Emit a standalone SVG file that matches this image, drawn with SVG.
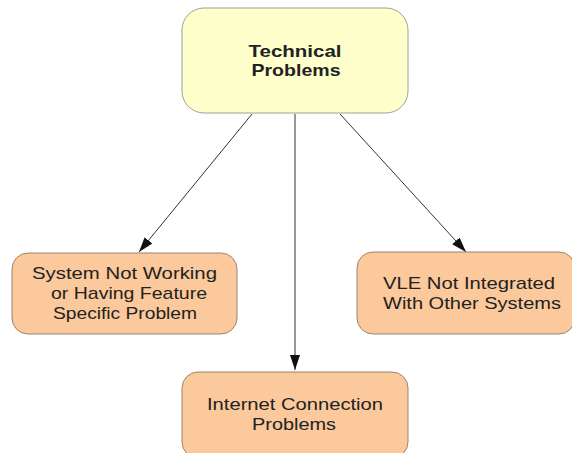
<svg xmlns="http://www.w3.org/2000/svg" width="572" height="453" viewBox="0 0 572 453">
  <style>
    .root { fill: #ffffcc; stroke: #a0a090; stroke-width: 1; }
    .leaf { fill: #fbc99b; stroke: #9a8470; stroke-width: 1; }
    .t { font-family: "Liberation Sans", Arial, sans-serif; font-size: 17px; fill: #222; text-anchor: middle; }
    .tb { font-weight: bold; }
    .edge { stroke: #333; stroke-width: 1; fill: none; marker-end: url(#ah); }
  </style>
  <defs>
    <marker id="ah" viewBox="0 0 15 10" refX="15" refY="5" markerWidth="15" markerHeight="10" markerUnits="userSpaceOnUse" orient="auto">
      <path d="M0,0 L15,5 L0,10 z" fill="#111"/>
    </marker>
  </defs>
  <rect width="572" height="453" fill="#ffffff"/>

  <g id="connectors">
    <line class="edge" x1="252" y1="114" x2="139" y2="252"/>
    <line class="edge" x1="295" y1="114" x2="295" y2="370"/>
    <line class="edge" x1="340" y1="114" x2="466" y2="252"/>
  </g>

  <g id="technical-problems">
    <rect class="root" x="182" y="8" width="226" height="105" rx="22" ry="22"/>
    <text class="t tb" x="295" y="57" textLength="93" lengthAdjust="spacingAndGlyphs">Technical</text>
    <text class="t tb" x="296" y="76" textLength="89" lengthAdjust="spacingAndGlyphs">Problems</text>
  </g>

  <g id="system-not-working">
    <rect class="leaf" x="12" y="253" width="225" height="81" rx="16" ry="16"/>
    <text class="t" x="124.5" y="279" textLength="185" lengthAdjust="spacingAndGlyphs">System Not Working</text>
    <text class="t" x="129" y="299" textLength="156" lengthAdjust="spacingAndGlyphs">or Having Feature</text>
    <text class="t" x="125" y="319" textLength="144" lengthAdjust="spacingAndGlyphs">Specific Problem</text>
  </g>

  <g id="vle-not-integrated">
    <rect class="leaf" x="357" y="252" width="218" height="82" rx="16" ry="16"/>
    <text class="t" x="469" y="289" textLength="172" lengthAdjust="spacingAndGlyphs">VLE Not Integrated</text>
    <text class="t" x="472" y="309" textLength="178" lengthAdjust="spacingAndGlyphs">With Other Systems</text>
  </g>

  <g id="internet-connection">
    <rect class="leaf" x="182" y="372" width="226" height="86" rx="16" ry="16"/>
    <text class="t" x="295" y="410" textLength="176" lengthAdjust="spacingAndGlyphs">Internet Connection</text>
    <text class="t" x="294" y="430" textLength="84" lengthAdjust="spacingAndGlyphs">Problems</text>
  </g>
</svg>
